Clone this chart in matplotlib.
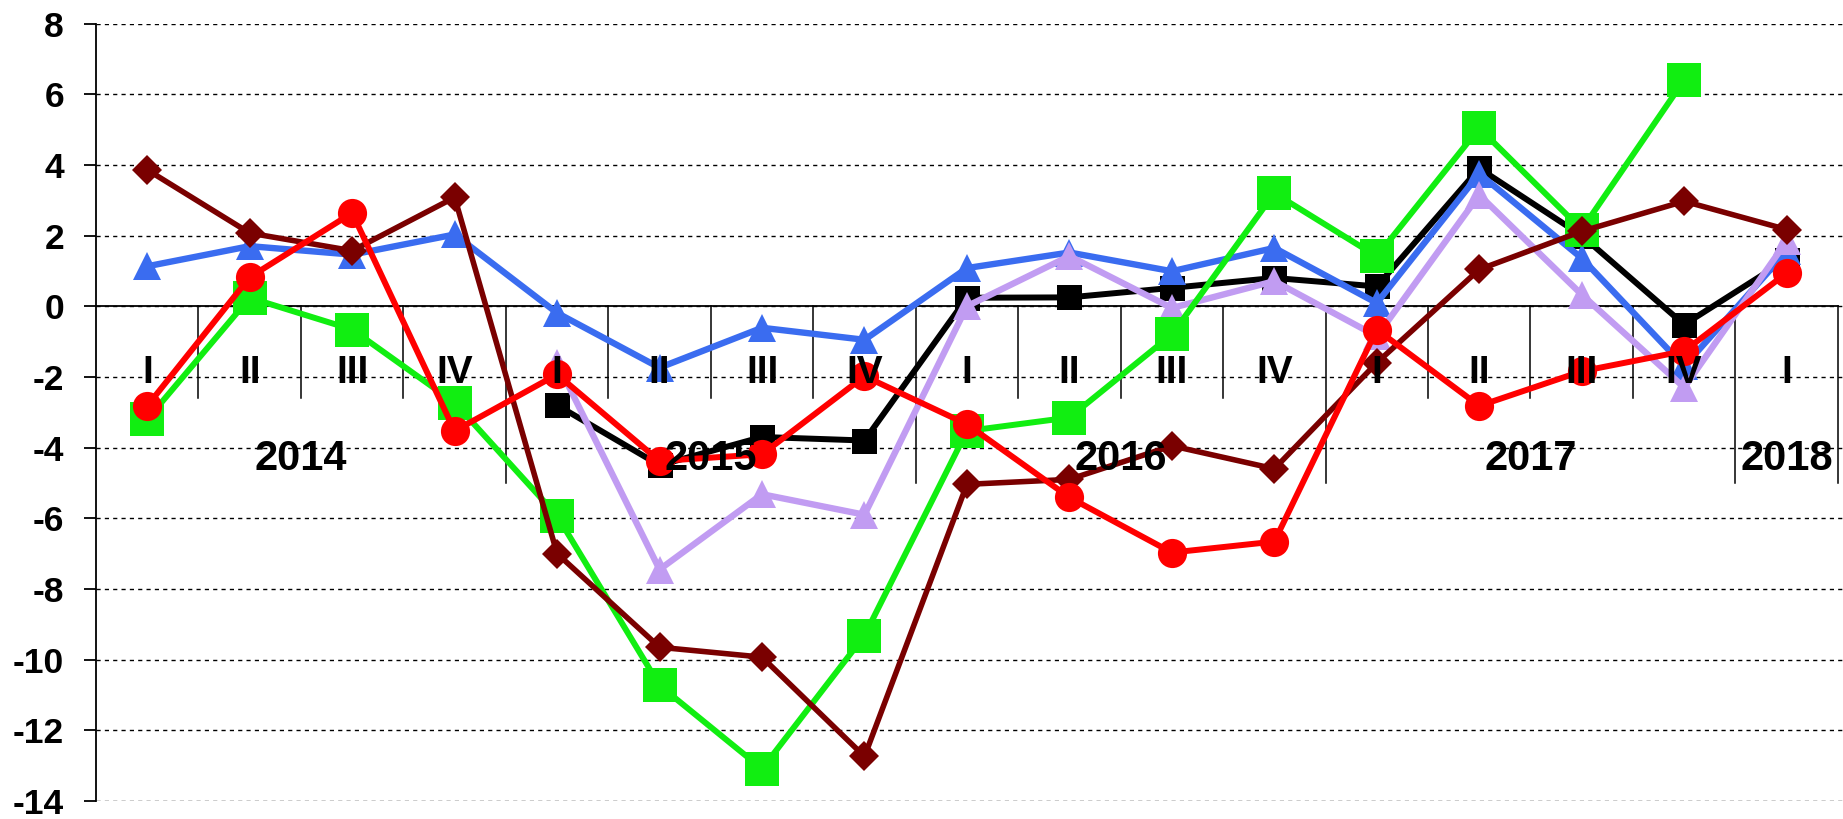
import numpy as np
import matplotlib

matplotlib.use("Agg")
import matplotlib.pyplot as plt

# ============================================================
# DATA
# ============================================================

quarters = ["I", "II", "III", "IV"] * 4 + ["I"]
years = ["2014", "2015", "2016", "2017", "2018"]
year_spans = [(0, 3), (4, 7), (8, 11), (12, 15), (16, 16)]

nan = np.nan

black_sq = [nan, nan, nan, nan, -2.8, -4.5, -3.7, -3.8,
            0.24, 0.25, 0.52, 0.8, 0.56, 3.9, 2.0, -0.52, 1.32]
blue_tri = [1.13, 1.7, 1.46, 2.03, -0.19, -1.74, -0.61, -0.95,
            1.08, 1.52, 0.99, 1.65, 0.09, 3.75, 1.36, -1.7, 1.55]
lilac_tri = [nan, nan, nan, nan, -1.6, -7.45, -5.32, -5.9,
             0.0, 1.42, -0.05, 0.71, -0.85, 3.15, 0.33, -2.3, 1.84]
green_sq = [-3.2, 0.24, -0.66, -2.73, -5.93, -10.73, -13.09, -9.32,
            -3.53, -3.15, -0.8, 3.2, 1.41, 5.04, 2.17, 6.4, nan]
maroon_dia = [3.86, 2.07, 1.57, 3.08, -7.0, -9.65, -9.93, -12.74,
              -5.04, -4.9, -3.95, -4.6, -1.6, 1.04, 2.12, 2.97, 2.17]
red_circ = [-2.82, 0.82, 2.64, -3.53, -1.93, -4.38, -4.19, -1.98,
            -3.34, -5.41, -6.97, -6.66, -0.66, -2.82, -1.84, -1.27, 0.94]


def main():
    plt.rcParams["font.family"] = ["Liberation Sans", "DejaVu Sans"]
    plt.rcParams["font.weight"] = "bold"
    plt.rcParams["axes.unicode_minus"] = False

    figure = plt.figure(figsize=(18.43, 8.19), dpi=100)
    axis = figure.add_axes([0.0521, 0.022, 0.9479, 0.9493])

    x = np.arange(len(quarters))

    # ============================================================
    # SERIES
    # ============================================================

    series = [
        (black_sq, "black", "s", 18, 4.3),
        (blue_tri, "#3a6cf0", "^", 20, 4.6),
        (lilac_tri, "#c19cf2", "^", 20, 4.6),
        (green_sq, "#11ee11", "s", 25, 4.3),
        (maroon_dia, "#7a0000", "D", 15, 4.0),
        (red_circ, "#ff0000", "o", 21, 4.3),
    ]

    for z, (values, color, marker, size, width) in enumerate(series):
        axis.plot(
            x,
            values,
            color=color,
            marker=marker,
            markersize=size,
            linewidth=width,
            markeredgewidth=0,
            zorder=5 + z,
            clip_on=False,
        )

    # ============================================================
    # AXES, GRID, CATEGORY LABELS
    # ============================================================

    axis.set_xlim(-0.5, 16.55)
    axis.set_ylim(-14, 8)
    axis.set_yticks(np.arange(-14, 9, 2))
    axis.set_xticks([])

    axis.yaxis.grid(True, linestyle=(0, (3, 3)), color="black", linewidth=1.0)
    axis.set_axisbelow(True)

    for side in ["top", "right", "bottom"]:
        axis.spines[side].set_visible(False)
    axis.spines["left"].set_linewidth(1.3)

    axis.tick_params(axis="y", length=9, width=1.3, pad=14, labelsize=25.5)

    axis.plot([-0.5, 16.5], [0, 0], color="black", linewidth=1.3, zorder=3)

    year_edges = [span[1] + 0.5 for span in year_spans]
    for i in range(1, len(quarters) + 1):
        edge = i - 0.5
        bottom = -5.0 if edge in year_edges else -2.6
        axis.plot([edge, edge], [0, bottom], color="black", linewidth=1.1, zorder=3)

    for i, label in enumerate(quarters):
        axis.text(i, -1.88, label, ha="center", va="center",
                  fontsize=28, fontweight="bold", zorder=20)

    for year, (first, last) in zip(years, year_spans):
        axis.text((first + last) / 2, -4.33, year, ha="center", va="center",
                  fontsize=30, fontweight="bold", zorder=20)

    figure.savefig("out.png", dpi=100)


if __name__ == "__main__":
    main()
